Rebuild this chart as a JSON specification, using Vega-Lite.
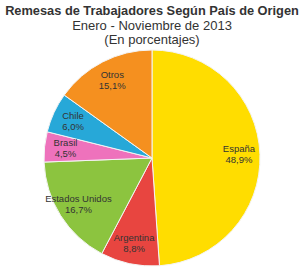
{
  "$schema": "https://vega.github.io/schema/vega-lite/v6.json",
  "autosize": "none",
  "width": 300,
  "height": 222,
  "padding": {"top": 47, "left": 2, "right": 0, "bottom": 7},
  "background": "white",
  "title": {
    "text": "Remesas de Trabajadores Según País de Origen",
    "subtitle": ["Enero - Noviembre de 2013", "(En porcentajes)"],
    "font": "Liberation Sans",
    "fontSize": 12.8,
    "fontWeight": "bold",
    "color": "#333333",
    "subtitleFont": "Liberation Sans",
    "subtitleFontSize": 13,
    "subtitleColor": "#333333",
    "subtitlePadding": 2,
    "subtitleLineHeight": 14,
    "anchor": "middle",
    "frame": "group",
    "offset": 0
  },
  "data": {
    "values": [
      {"pais": "España", "valor": 48.9, "pct": "48,9%", "orden": 1},
      {"pais": "Argentina", "valor": 8.8, "pct": "8,8%", "orden": 2},
      {"pais": "Estados Unidos", "valor": 16.7, "pct": "16,7%", "orden": 3},
      {"pais": "Brasil", "valor": 4.5, "pct": "4,5%", "orden": 4},
      {"pais": "Chile", "valor": 6.0, "pct": "6,0%", "orden": 5},
      {"pais": "Otros", "valor": 15.1, "pct": "15,1%", "orden": 6}
    ]
  },
  "encoding": {
    "theta": {"field": "valor", "type": "quantitative", "stack": true},
    "order": {"field": "orden", "type": "quantitative"}
  },
  "layer": [
    {
      "mark": {"type": "arc", "outerRadius": 108, "stroke": "#f4f4f4", "strokeWidth": 1},
      "encoding": {
        "color": {
          "field": "pais",
          "type": "nominal",
          "legend": null,
          "scale": {
            "domain": ["España", "Argentina", "Estados Unidos", "Brasil", "Chile", "Otros"],
            "range": ["#FFDD00", "#E84540", "#8CC43F", "#EE72BC", "#27A8D8", "#F5901F"]
          }
        }
      }
    },
    {
      "mark": {"type": "text", "radius": 87, "dy": -5.5, "font": "Liberation Sans", "fontSize": 9.5, "color": "#333333"},
      "encoding": {"text": {"field": "pais"}}
    },
    {
      "mark": {"type": "text", "radius": 87, "dy": 5.5, "font": "Liberation Sans", "fontSize": 9.5, "color": "#333333"},
      "encoding": {"text": {"field": "pct"}}
    }
  ],
  "view": {"stroke": null}
}
